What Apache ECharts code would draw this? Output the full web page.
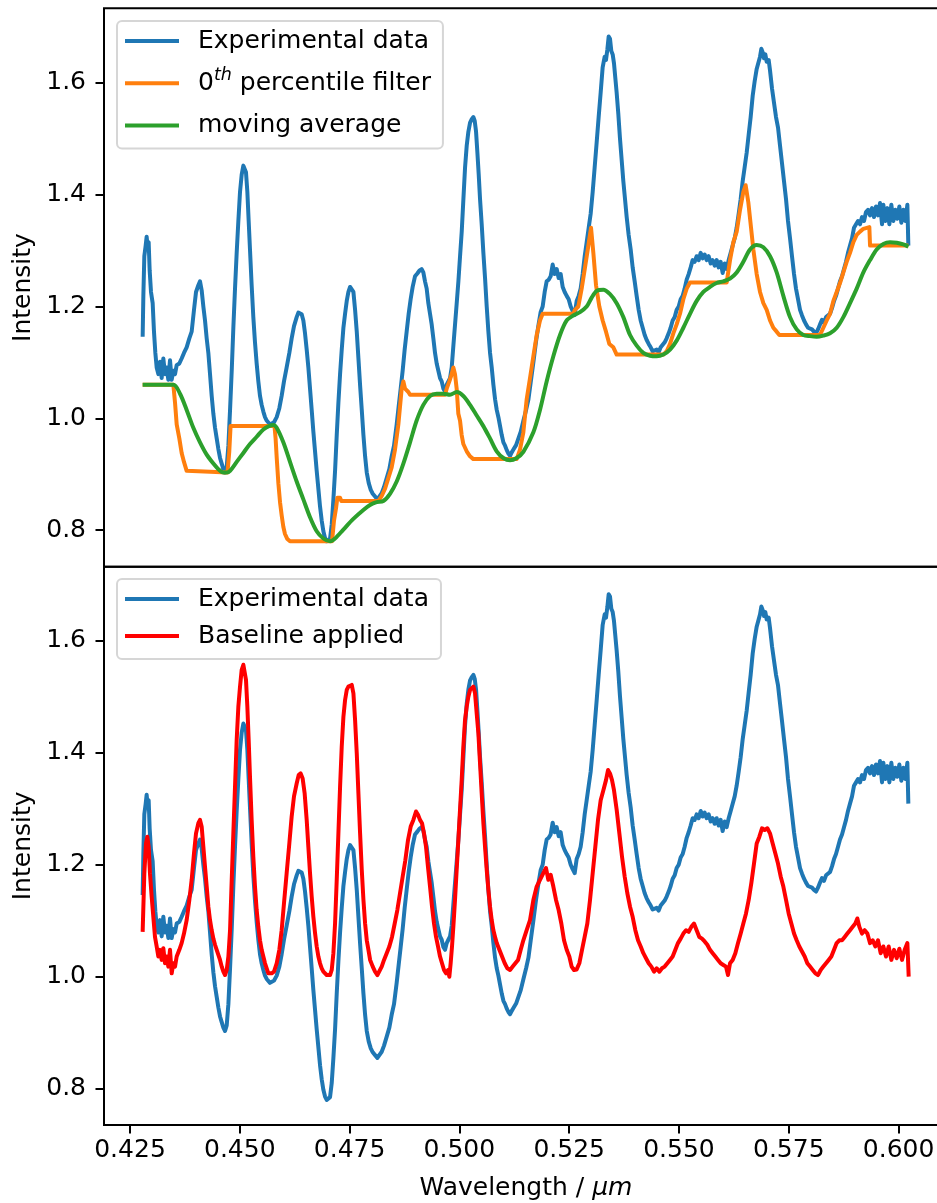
<!DOCTYPE html>
<html>
<head>
<meta charset="utf-8">
<title>Baseline correction of a spectrum</title>
<script src="https://cdn.jsdelivr.net/npm/echarts@6.0.0/dist/echarts.min.js"></script>
<style>
  html, body { margin: 0; padding: 0; background: #fff; }
  #chart { width: 937px; height: 1203px; }
</style>
</head>
<body>
<div id="chart"></div>
<script>
// Measured spectrum (wavelength in µm, intensity)
const expWavelength = [
  0.42788,0.42804,0.42826,0.42857,0.42879,0.42902,0.42925,0.42948,0.42978,0.43016,
  0.43046,0.43077,0.43107,0.43145,0.43183,0.43221,0.43259,0.43297,0.43335,0.43373,
  0.43411,0.43449,0.43487,0.43525,0.43563,0.43623,0.43676,0.43729,0.43790,0.43851,
  0.43904,0.43957,0.44003,0.44056,0.44094,0.44132,0.44170,0.44208,0.44246,0.44284,
  0.44322,0.44360,0.44398,0.44436,0.44474,0.44512,0.44550,0.44588,0.44626,0.44664,
  0.44702,0.44740,0.44778,0.44816,0.44853,0.44891,0.44929,0.44967,0.45005,0.45043,
  0.45081,0.45111,0.45141,0.45172,0.45202,0.45232,0.45270,0.45308,0.45346,0.45384,
  0.45422,0.45460,0.45498,0.45536,0.45574,0.45612,0.45650,0.45688,0.45726,0.45779,
  0.45840,0.45900,0.45953,0.46006,0.46067,0.46128,0.46181,0.46234,0.46295,0.46333,
  0.46371,0.46409,0.46447,0.46485,0.46523,0.46561,0.46599,0.46637,0.46675,0.46713,
  0.46751,0.46789,0.46827,0.46865,0.46903,0.46941,0.46979,0.47017,0.47055,0.47093,
  0.47131,0.47169,0.47207,0.47245,0.47283,0.47321,0.47359,0.47397,0.47435,0.47473,
  0.47511,0.47549,0.47587,0.47625,0.47663,0.47701,0.47739,0.47777,0.47815,0.47853,
  0.47891,0.47936,0.47982,0.48027,0.48080,0.48133,0.48178,0.48231,0.48284,0.48345,
  0.48405,0.48458,0.48511,0.48572,0.48617,0.48663,0.48708,0.48754,0.48799,0.48845,
  0.48890,0.48936,0.48989,0.49042,0.49088,0.49141,0.49179,0.49217,0.49255,0.49293,
  0.49331,0.49369,0.49407,0.49445,0.49483,0.49521,0.49559,0.49597,0.49635,0.49673,
  0.49711,0.49749,0.49787,0.49825,0.49863,0.49901,0.49939,0.49977,0.50015,0.50053,
  0.50091,0.50129,0.50167,0.50205,0.50243,0.50281,0.50319,0.50349,0.50379,0.50410,
  0.50440,0.50470,0.50508,0.50546,0.50584,0.50622,0.50660,0.50698,0.50736,0.50774,
  0.50812,0.50850,0.50888,0.50926,0.50964,0.51002,0.51040,0.51078,0.51116,0.51154,
  0.51192,0.51230,0.51291,0.51344,0.51397,0.51458,0.51519,0.51572,0.51623,0.51684,
  0.51744,0.51797,0.51850,0.51896,0.51942,0.51987,0.52033,0.52078,0.52124,0.52169,
  0.52215,0.52260,0.52306,0.52352,0.52397,0.52443,0.52488,0.52534,0.52579,0.52625,
  0.52670,0.52716,0.52761,0.52807,0.52853,0.52898,0.52944,0.52989,0.53035,0.53080,
  0.53126,0.53171,0.53217,0.53262,0.53308,0.53338,0.53369,0.53399,0.53429,0.53459,
  0.53490,0.53520,0.53550,0.53580,0.53618,0.53657,0.53695,0.53733,0.53771,0.53809,
  0.53854,0.53900,0.53945,0.53991,0.54036,0.54082,0.54127,0.54173,0.54219,0.54264,
  0.54310,0.54355,0.54401,0.54446,0.54492,0.54537,0.54583,0.54628,0.54674,0.54719,
  0.54765,0.54810,0.54856,0.54902,0.54947,0.54993,0.55038,0.55084,0.55129,0.55175,
  0.55220,0.55266,0.55311,0.55357,0.55402,0.55448,0.55494,0.55539,0.55585,0.55630,
  0.55676,0.55721,0.55767,0.55812,0.55858,0.55903,0.55949,0.55994,0.56040,0.56086,
  0.56131,0.56177,0.56222,0.56268,0.56313,0.56359,0.56404,0.56450,0.56495,0.56541,
  0.56586,0.56632,0.56678,0.56723,0.56769,0.56814,0.56845,0.56875,0.56905,0.56936,
  0.56966,0.56996,0.57042,0.57073,0.57118,0.57164,0.57209,0.57255,0.57300,0.57346,
  0.57391,0.57437,0.57482,0.57528,0.57573,0.57619,0.57664,0.57710,0.57756,0.57801,
  0.57847,0.57892,0.57938,0.57983,0.58029,0.58074,0.58120,0.58165,0.58211,0.58256,
  0.58302,0.58348,0.58393,0.58439,0.58484,0.58530,0.58575,0.58621,0.58666,0.58712,
  0.58757,0.58803,0.58848,0.58894,0.58940,0.58985,0.59031,0.59076,0.59122,0.59167,
  0.59213,0.59258,0.59304,0.59349,0.59395,0.59440,0.59486,0.59532,0.59577,0.59623,
  0.59653,0.59699,0.59744,0.59790,0.59835,0.59881,0.59926,0.59972,0.60017,0.60063,
  0.60108,0.60154,0.60200,0.60222
];
const expIntensity = [
  1.146,1.219,1.290,1.309,1.325,1.306,1.315,1.264,1.226,1.206,
  1.155,1.117,1.091,1.079,1.101,1.072,1.107,1.079,1.091,1.069,
  1.104,1.069,1.085,1.079,1.095,1.098,1.107,1.117,1.127,1.143,
  1.155,1.194,1.226,1.238,1.245,1.229,1.200,1.175,1.143,1.117,
  1.079,1.040,1.008,0.983,0.964,0.945,0.929,0.919,0.909,0.903,
  0.913,0.951,1.015,1.085,1.162,1.232,1.296,1.353,1.405,1.436,
  1.452,1.454,1.440,1.405,1.353,1.302,1.238,1.181,1.136,1.098,
  1.066,1.040,1.024,1.012,1.002,0.996,0.993,0.989,0.988,0.993,
  1.002,1.018,1.040,1.066,1.091,1.117,1.143,1.165,1.181,1.189,
  1.190,1.186,1.175,1.152,1.123,1.091,1.053,1.015,0.976,0.941,
  0.906,0.874,0.842,0.817,0.798,0.786,0.780,0.779,0.785,0.810,
  0.855,0.906,0.970,1.028,1.079,1.123,1.162,1.187,1.210,1.226,
  1.235,1.238,1.226,1.194,1.155,1.107,1.059,1.015,0.970,0.932,
  0.903,0.884,0.872,0.865,0.860,0.855,0.857,0.866,0.877,0.893,
  0.909,0.932,0.951,0.989,1.021,1.053,1.085,1.123,1.155,1.187,
  1.213,1.235,1.254,1.259,1.264,1.267,1.261,1.245,1.232,1.206,
  1.187,1.168,1.143,1.117,1.098,1.085,1.072,1.066,1.053,1.048,
  1.060,1.066,1.072,1.091,1.130,1.168,1.206,1.245,1.290,1.334,
  1.392,1.449,1.488,1.513,1.529,1.535,1.539,1.532,1.513,1.475,
  1.436,1.392,1.347,1.296,1.251,1.200,1.155,1.117,1.091,1.060,
  1.034,1.015,1.002,0.986,0.970,0.957,0.951,0.943,0.937,0.933,
  0.939,0.944,0.952,0.964,0.976,0.996,1.015,1.034,1.064,1.100,
  1.137,1.165,1.190,1.200,1.226,1.245,1.248,1.254,1.275,1.258,
  1.267,1.251,1.258,1.235,1.226,1.219,1.213,1.200,1.192,1.185,
  1.210,1.219,1.232,1.258,1.290,1.315,1.341,1.366,1.405,1.449,
  1.494,1.539,1.583,1.628,1.647,1.641,1.660,1.683,1.679,1.657,
  1.651,1.635,1.609,1.583,1.545,1.500,1.462,1.424,1.392,1.360,
  1.328,1.302,1.270,1.245,1.219,1.194,1.175,1.162,1.149,1.140,
  1.133,1.127,1.120,1.117,1.123,1.118,1.127,1.130,1.136,1.143,
  1.152,1.162,1.175,1.181,1.194,1.200,1.213,1.219,1.232,1.248,
  1.258,1.270,1.283,1.280,1.290,1.283,1.296,1.286,1.293,1.283,
  1.290,1.277,1.283,1.273,1.283,1.270,1.280,1.260,1.277,1.267,
  1.283,1.296,1.309,1.322,1.341,1.366,1.392,1.424,1.449,1.475,
  1.507,1.539,1.577,1.603,1.625,1.628,1.647,1.661,1.655,1.644,
  1.651,1.638,1.641,1.622,1.590,1.564,1.539,1.520,1.488,1.456,
  1.424,1.392,1.353,1.322,1.290,1.258,1.232,1.213,1.194,1.184,
  1.175,1.168,1.162,1.165,1.159,1.155,1.152,1.159,1.168,1.176,
  1.171,1.181,1.178,1.187,1.197,1.210,1.219,1.232,1.245,1.254,
  1.267,1.280,1.296,1.309,1.322,1.341,1.347,1.353,1.347,1.360,
  1.353,1.369,1.373,1.363,1.376,1.360,1.379,1.363,1.385,1.347,
  1.382,1.353,1.376,1.347,1.382,1.353,1.373,1.357,1.379,1.350,
  1.373,1.353,1.382,1.309
];

// Running minimum of the spectrum
const filterWavelength = [
  0.42788,0.43487,0.43525,0.43563,0.43623,0.43676,0.43729,0.43790,0.43828,0.44720,
  0.44760,0.44790,0.45790,0.45815,0.45840,0.45878,0.45916,0.45954,0.45991,0.46029,
  0.46083,0.46143,0.47100,0.47145,0.47191,0.47221,0.47282,0.47312,0.48155,0.48231,
  0.48307,0.48382,0.48458,0.48534,0.48610,0.48686,0.48724,0.48762,0.48838,0.48876,
  0.49673,0.49711,0.49771,0.49824,0.49862,0.49900,0.49938,0.49976,0.50014,0.50052,
  0.50090,0.50166,0.50242,0.50318,0.51304,0.51380,0.51456,0.51532,0.51608,0.51684,
  0.51760,0.51835,0.51896,0.52594,0.52632,0.52708,0.52784,0.52860,0.52936,0.52997,
  0.53050,0.53111,0.53186,0.53262,0.53338,0.53414,0.53505,0.53581,0.54644,0.54720,
  0.54796,0.54871,0.54947,0.55023,0.55099,0.55175,0.55251,0.56086,0.56162,0.56238,
  0.56314,0.56390,0.56465,0.56518,0.56579,0.56632,0.56693,0.56769,0.56845,0.56921,
  0.56997,0.57073,0.57148,0.57224,0.57285,0.58211,0.58287,0.58363,0.58439,0.58515,
  0.58591,0.58666,0.58742,0.58818,0.58894,0.58970,0.59046,0.59122,0.59198,0.59334,
  0.59350,0.60222
];
const filterIntensity = [
  1.060,1.060,1.028,0.989,0.964,0.938,0.922,0.906,0.903,0.903,
  0.940,0.986,0.986,0.964,0.930,0.884,0.850,0.826,0.806,0.793,
  0.784,0.780,0.780,0.817,0.839,0.858,0.858,0.852,0.852,0.861,
  0.874,0.893,0.912,0.944,0.989,1.053,1.066,1.053,1.047,1.042,
  1.042,1.053,1.066,1.079,1.091,1.079,1.053,1.008,0.996,0.970,
  0.954,0.941,0.932,0.927,0.927,0.944,0.975,1.034,1.072,1.111,
  1.149,1.175,1.187,1.187,1.194,1.200,1.232,1.270,1.309,1.341,
  1.296,1.238,1.200,1.175,1.155,1.133,1.127,1.114,1.114,1.120,
  1.133,1.152,1.168,1.187,1.213,1.232,1.243,1.243,1.283,1.315,
  1.334,1.373,1.405,1.417,1.386,1.347,1.302,1.258,1.226,1.206,
  1.194,1.175,1.162,1.155,1.149,1.149,1.162,1.175,1.187,1.210,
  1.226,1.242,1.261,1.280,1.296,1.315,1.328,1.334,1.339,1.342,
  1.309,1.309
];

// Moving average of the running minimum (the baseline)
const averageWavelength = [
  0.42788,0.43487,0.43639,0.43790,0.43942,0.44094,0.44246,0.44398,0.44512,0.44626,
  0.44702,0.44778,0.44929,0.45081,0.45232,0.45384,0.45536,0.45688,0.45764,0.45840,
  0.45991,0.46143,0.46295,0.46447,0.46599,0.46751,0.46903,0.47055,0.47168,0.47358,
  0.47585,0.47813,0.47965,0.48117,0.48268,0.48420,0.48572,0.48724,0.48876,0.49027,
  0.49179,0.49331,0.49483,0.49635,0.49786,0.49938,0.50090,0.50242,0.50394,0.50545,
  0.50697,0.50849,0.51001,0.51153,0.51304,0.51456,0.51684,0.51835,0.51987,0.52139,
  0.52291,0.52443,0.52594,0.52746,0.52898,0.53012,0.53126,0.53278,0.53429,0.53581,
  0.53733,0.53885,0.54037,0.54188,0.54340,0.54492,0.54644,0.54796,0.54947,0.55099,
  0.55251,0.55403,0.55555,0.55706,0.55858,0.56010,0.56162,0.56314,0.56465,0.56617,
  0.56769,0.56921,0.57073,0.57224,0.57376,0.57528,0.57680,0.57832,0.57983,0.58135,
  0.58287,0.58439,0.58591,0.58742,0.58894,0.59046,0.59198,0.59350,0.59501,0.59653,
  0.59805,0.59957,0.60108,0.60222
];
const averageIntensity = [
  1.060,1.060,1.044,1.015,0.983,0.957,0.935,0.919,0.909,0.903,
  0.903,0.906,0.922,0.938,0.954,0.967,0.980,0.987,0.988,0.983,
  0.957,0.922,0.887,0.855,0.823,0.798,0.785,0.780,0.785,0.801,
  0.820,0.836,0.845,0.850,0.852,0.865,0.887,0.919,0.957,0.996,
  1.024,1.040,1.044,1.044,1.042,1.047,1.040,1.024,1.005,0.986,
  0.964,0.941,0.929,0.925,0.929,0.940,0.975,1.015,1.066,1.111,
  1.149,1.175,1.184,1.190,1.200,1.216,1.228,1.230,1.222,1.206,
  1.181,1.149,1.130,1.117,1.112,1.111,1.114,1.123,1.139,1.162,
  1.187,1.210,1.226,1.235,1.242,1.245,1.250,1.261,1.280,1.302,
  1.310,1.306,1.290,1.261,1.219,1.181,1.159,1.149,1.147,1.146,
  1.148,1.152,1.162,1.181,1.206,1.232,1.261,1.283,1.302,1.312,
  1.315,1.314,1.311,1.307
];

// Spectrum divided by the baseline
const correctedWavelength = [
  0.42788,0.42826,0.42864,0.42895,0.42925,0.42955,0.42993,0.43031,0.43069,0.43107,
  0.43145,0.43183,0.43221,0.43259,0.43297,0.43335,0.43373,0.43411,0.43449,0.43487,
  0.43525,0.43563,0.43623,0.43676,0.43729,0.43790,0.43851,0.43904,0.43957,0.44003,
  0.44056,0.44094,0.44132,0.44170,0.44208,0.44246,0.44284,0.44322,0.44360,0.44398,
  0.44436,0.44474,0.44512,0.44550,0.44588,0.44626,0.44664,0.44702,0.44740,0.44778,
  0.44816,0.44853,0.44891,0.44929,0.44967,0.45005,0.45043,0.45081,0.45111,0.45141,
  0.45172,0.45202,0.45232,0.45270,0.45308,0.45346,0.45384,0.45422,0.45460,0.45498,
  0.45536,0.45574,0.45612,0.45650,0.45688,0.45726,0.45779,0.45840,0.45900,0.45953,
  0.46006,0.46067,0.46128,0.46181,0.46234,0.46295,0.46340,0.46386,0.46431,0.46477,
  0.46523,0.46561,0.46599,0.46637,0.46675,0.46713,0.46751,0.46789,0.46827,0.46865,
  0.46903,0.46941,0.46979,0.47017,0.47055,0.47093,0.47131,0.47169,0.47207,0.47245,
  0.47283,0.47321,0.47359,0.47397,0.47435,0.47473,0.47511,0.47549,0.47587,0.47625,
  0.47663,0.47701,0.47739,0.47777,0.47815,0.47853,0.47891,0.47929,0.47967,0.48027,
  0.48080,0.48133,0.48178,0.48231,0.48284,0.48345,0.48405,0.48466,0.48527,0.48587,
  0.48648,0.48709,0.48769,0.48830,0.48891,0.48952,0.49012,0.49058,0.49103,0.49149,
  0.49194,0.49240,0.49285,0.49331,0.49377,0.49422,0.49468,0.49513,0.49559,0.49604,
  0.49650,0.49695,0.49741,0.49771,0.49801,0.49832,0.49862,0.49900,0.49938,0.49976,
  0.50014,0.50052,0.50090,0.50128,0.50166,0.50204,0.50242,0.50280,0.50318,0.50356,
  0.50394,0.50432,0.50470,0.50508,0.50546,0.50584,0.50622,0.50660,0.50698,0.50736,
  0.50774,0.50812,0.50850,0.50910,0.50971,0.51032,0.51092,0.51153,0.51214,0.51274,
  0.51335,0.51396,0.51456,0.51532,0.51608,0.51684,0.51760,0.51835,0.51911,0.51972,
  0.52025,0.52078,0.52139,0.52200,0.52260,0.52321,0.52382,0.52443,0.52503,0.52556,
  0.52610,0.52670,0.52731,0.52792,0.52852,0.52913,0.52974,0.53035,0.53095,0.53156,
  0.53217,0.53278,0.53338,0.53384,0.53429,0.53475,0.53520,0.53581,0.53642,0.53703,
  0.53763,0.53824,0.53885,0.53945,0.54006,0.54067,0.54128,0.54188,0.54249,0.54310,
  0.54370,0.54431,0.54492,0.54553,0.54613,0.54674,0.54735,0.54795,0.54856,0.54917,
  0.54977,0.55038,0.55099,0.55160,0.55220,0.55281,0.55342,0.55402,0.55463,0.55524,
  0.55584,0.55645,0.55706,0.55767,0.55827,0.55888,0.55949,0.56009,0.56070,0.56116,
  0.56162,0.56222,0.56283,0.56344,0.56405,0.56465,0.56526,0.56587,0.56647,0.56708,
  0.56769,0.56830,0.56890,0.56951,0.57012,0.57072,0.57133,0.57194,0.57254,0.57315,
  0.57376,0.57437,0.57497,0.57558,0.57619,0.57679,0.57740,0.57801,0.57862,0.57922,
  0.57983,0.58044,0.58105,0.58165,0.58226,0.58287,0.58348,0.58408,0.58469,0.58530,
  0.58590,0.58651,0.58712,0.58773,0.58833,0.58894,0.58955,0.59015,0.59061,0.59107,
  0.59167,0.59228,0.59289,0.59350,0.59410,0.59471,0.59532,0.59592,0.59653,0.59714,
  0.59774,0.59835,0.59896,0.59957,0.60017,0.60078,0.60139,0.60200,0.60230
];
const correctedIntensity = [
  1.080,1.184,1.238,1.250,1.232,1.184,1.143,1.107,1.071,1.054,
  1.036,1.048,1.030,1.051,1.024,1.036,1.018,1.048,1.006,1.024,
  1.018,1.036,1.048,1.060,1.077,1.101,1.137,1.173,1.220,1.256,
  1.274,1.280,1.268,1.232,1.196,1.161,1.125,1.101,1.083,1.068,
  1.057,1.048,1.039,1.030,1.018,1.009,1.003,1.012,1.036,1.083,
  1.173,1.256,1.339,1.423,1.482,1.518,1.548,1.557,1.554,1.530,
  1.482,1.423,1.357,1.280,1.214,1.161,1.119,1.089,1.065,1.048,
  1.036,1.024,1.015,1.006,1.003,1.006,1.009,1.024,1.048,1.083,
  1.131,1.185,1.238,1.286,1.322,1.345,1.360,1.363,1.354,1.327,
  1.280,1.232,1.185,1.143,1.107,1.078,1.054,1.036,1.024,1.015,
  1.009,1.006,1.003,1.001,1.003,1.012,1.042,1.095,1.173,1.256,
  1.339,1.411,1.464,1.494,1.512,1.518,1.521,1.521,1.506,1.458,
  1.399,1.327,1.256,1.191,1.137,1.095,1.065,1.048,1.030,1.018,
  1.009,1.003,1.006,1.018,1.030,1.042,1.054,1.071,1.095,1.119,
  1.149,1.179,1.208,1.244,1.268,1.280,1.295,1.289,1.280,1.274,
  1.256,1.232,1.196,1.161,1.125,1.095,1.071,1.054,1.036,1.024,
  1.012,1.006,1.012,1.000,1.024,1.054,1.089,1.137,1.191,1.244,
  1.298,1.351,1.411,1.458,1.482,1.500,1.512,1.515,1.518,1.506,
  1.470,1.435,1.381,1.327,1.274,1.232,1.191,1.155,1.125,1.101,
  1.083,1.071,1.060,1.048,1.036,1.024,1.015,1.012,1.018,1.024,
  1.030,1.048,1.065,1.083,1.101,1.137,1.161,1.173,1.185,1.194,
  1.173,1.182,1.161,1.137,1.119,1.095,1.065,1.048,1.036,1.018,
  1.012,1.013,1.024,1.048,1.071,1.095,1.137,1.185,1.232,1.280,
  1.315,1.333,1.351,1.369,1.363,1.351,1.333,1.298,1.256,1.214,
  1.179,1.149,1.125,1.107,1.083,1.065,1.054,1.042,1.033,1.024,
  1.018,1.009,1.015,1.009,1.015,1.018,1.024,1.030,1.036,1.048,
  1.060,1.068,1.077,1.083,1.080,1.089,1.095,1.083,1.071,1.068,
  1.063,1.057,1.048,1.042,1.036,1.030,1.024,1.021,1.018,1.003,
  1.024,1.030,1.042,1.060,1.077,1.095,1.113,1.137,1.167,1.202,
  1.238,1.250,1.265,1.262,1.265,1.256,1.238,1.220,1.202,1.179,
  1.161,1.137,1.113,1.095,1.077,1.065,1.054,1.045,1.036,1.024,
  1.018,1.012,1.006,1.003,1.012,1.018,1.024,1.030,1.036,1.048,
  1.060,1.065,1.065,1.071,1.077,1.083,1.089,1.095,1.104,1.089,
  1.077,1.083,1.077,1.060,1.065,1.054,1.065,1.042,1.054,1.036,
  1.054,1.030,1.048,1.033,1.050,1.030,1.048,1.060,1.000
];

// Axis ticks
const wavelengthTicks = [0.425, 0.450, 0.475, 0.500, 0.525, 0.550, 0.575, 0.600];
const intensityTicks = [0.8, 1.0, 1.2, 1.4, 1.6];

const FONT = 'DejaVu Sans';
const pairs = (xs, ys) => xs.map((x, i) => [x, ys[i]]);

const chart = echarts.init(document.getElementById('chart'), null, { renderer: 'canvas' });

const lineSeries = (name, xs, ys, color, panel, extra) => Object.assign({
  name: name,
  type: 'line',
  xAxisIndex: panel,
  yAxisIndex: panel,
  data: pairs(xs, ys),
  symbol: 'none',
  showSymbol: false,
  color: color,
  lineStyle: { color: color, width: 4, join: 'round' },
  emphasis: { disabled: true },
  animation: false
}, extra || {});

const legendBase = {
  orient: 'vertical',
  left: 117,
  icon: 'rect',
  itemWidth: 54,
  itemHeight: 4,
  padding: [5, 12, 8, 8],
  backgroundColor: 'rgba(255,255,255,0.8)',
  borderColor: '#d6d6d6',
  borderWidth: 2,
  borderRadius: 5,
  selectedMode: false,
  textStyle: {
    fontFamily: FONT,
    fontSize: 25,
    lineHeight: 30,
    color: '#000',
    padding: [0, 0, 0, 14],
    rich: {
      a: { fontFamily: FONT, fontSize: 25, lineHeight: 30, color: '#000' },
      s: { fontFamily: FONT, fontSize: 17.5, fontStyle: 'italic', lineHeight: 20, padding: [0, 0, 16, 0], color: '#000' }
    }
  },
  formatter: function (name) {
    return name === '0th percentile filter' ? '{a|0}{s|th}{a| percentile filter}' : name;
  }
};

const yAxisBase = {
  type: 'value',
  splitLine: { show: false },
  axisLine: { show: false },
  axisTick: { show: true, customValues: intensityTicks, length: 8.5, lineStyle: { color: '#000', width: 2 } },
  axisLabel: {
    customValues: intensityTicks,
    formatter: v => v.toFixed(1),
    fontFamily: FONT, fontSize: 25, color: '#000', margin: 18
  },
  name: 'Intensity',
  nameLocation: 'middle',
  nameGap: 68,
  nameMoveOverlap: false,
  nameTextStyle: { fontFamily: FONT, fontSize: 25, color: '#000' }
};

const gridBase = {
  left: 104, width: 844,
  show: true, borderColor: '#000', borderWidth: 2, backgroundColor: 'transparent',
  containLabel: false, outerBoundsMode: 'none'
};

chart.setOption({
  animation: false,
  backgroundColor: '#fff',
  grid: [
    Object.assign({ top: 8.3, height: 558.4 }, gridBase),
    Object.assign({ top: 566.7, height: 558.3 }, gridBase)
  ],
  xAxis: [
    {
      type: 'value', gridIndex: 0, min: 0.41908, max: 0.61125,
      splitLine: { show: false }, axisLine: { show: false },
      axisTick: { show: false }, axisLabel: { show: false }
    },
    {
      type: 'value', gridIndex: 1, min: 0.41908, max: 0.61125,
      splitLine: { show: false }, axisLine: { show: false },
      axisTick: { show: true, customValues: wavelengthTicks, length: 8.5, lineStyle: { color: '#000', width: 2 } },
      axisLabel: {
        customValues: wavelengthTicks,
        formatter: v => v.toFixed(3),
        fontFamily: FONT, fontSize: 25, color: '#000', margin: 13
      },
      name: '{n|Wavelength / }{i|μm}',
      nameLocation: 'middle',
      nameGap: 51,
      nameMoveOverlap: false,
      nameTextStyle: {
        fontFamily: FONT, fontSize: 25, color: '#000',
        rich: {
          n: { fontFamily: FONT, fontSize: 25, color: '#000' },
          i: { fontFamily: FONT, fontSize: 25, fontStyle: 'italic', color: '#000' }
        }
      }
    }
  ],
  yAxis: [
    Object.assign({ gridIndex: 0, min: 0.7345, max: 1.7335 }, yAxisBase),
    Object.assign({ gridIndex: 1, min: 0.7352, max: 1.7321 }, yAxisBase)
  ],
  legend: [
    Object.assign({ top: 21, itemGap: 10.3, data: ['Experimental data', '0th percentile filter', 'moving average'] }, legendBase, { padding: [5, 12, 8, 8] }),
    Object.assign({ top: 579, itemGap: 7, data: ['Experimental data', 'Baseline applied'] }, legendBase)
  ],
  series: [
    lineSeries('Experimental data', expWavelength, expIntensity, '#1f77b4', 0),
    lineSeries('0th percentile filter', filterWavelength, filterIntensity, '#ff7f0e', 0),
    lineSeries('moving average', averageWavelength, averageIntensity, '#2ca02c', 0, { smooth: 0.3 }),
    lineSeries('Experimental data', expWavelength, expIntensity, '#1f77b4', 1),
    lineSeries('Baseline applied', correctedWavelength, correctedIntensity, '#ff0000', 1)
  ]
});
</script>
</body>
</html>
